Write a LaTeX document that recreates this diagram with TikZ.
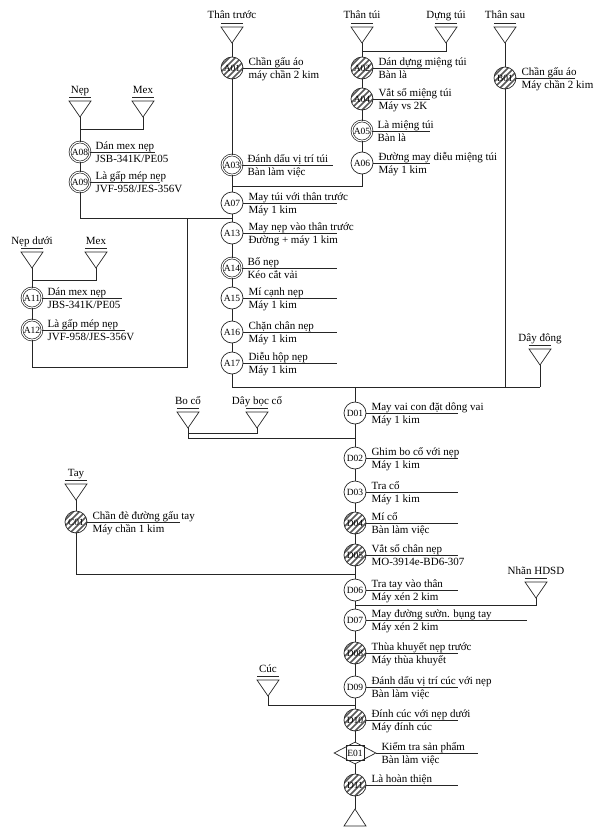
\documentclass[tikz,border=0pt]{standalone}
\usepackage{fontspec}
\setmainfont{Liberation Serif}
\usetikzlibrary{shapes.geometric}
\tikzset{
  ln/.style={line width=0.7pt, black!85},
  op/.style={circle, draw=black!85, line width=0.7pt, minimum size=22pt, inner sep=0pt, font=\fontsize{9.5}{10}\selectfont},
  opd/.style={op, double, double distance=1.1pt, minimum size=20pt},
  oph/.style={op, path picture={\foreach \k in {-25,-19,...,25}{\draw[line width=1.5pt, black!65] ([xshift=\k pt-16pt,yshift=-16pt]path picture bounding box.center) -- ++(32pt,32pt);}}},
  t1/.style={anchor=base west, inner sep=0pt, font=\fontsize{11}{12}\selectfont},
  t2/.style={t1},
  lbl/.style={anchor=base, inner sep=0pt, font=\fontsize{11}{12}\selectfont},
}
\newcommand\myop[4]{%
  \draw[ln] (#1.east) -- ([xshift=#2pt]#1.center);
  \node[t1] (#1a) at ([xshift=5pt,yshift=2.5pt]#1.east) {#3};
  \node[t2] (#1b) at ([xshift=5pt,yshift=-10.5pt]#1.east) {#4};
}
\newcommand\mystor[4]{%
  \draw[ln] ({#2-11},#3) -- ({#2+11},#3) -- (#2,{#3+16}) -- cycle;
  \draw[ln] ({#2-11},{#3-3.5}) -- ({#2+11},{#3-3.5});
  \node[lbl] (#1l) at (#2,{#3-8}) {#4};
  \coordinate (#1) at (#2,{#3+16});
}
\begin{document}
\begin{tikzpicture}[x=1pt,y=-1pt]
\useasboundingbox (0,0) rectangle (599,827);
% storages
\mystor{tTT}{232}{27}{Thân trước}
\mystor{tTtui}{362}{27}{Thân túi}
\mystor{tDtui}{446}{27}{Dựng túi}
\mystor{tTs}{505}{27}{Thân sau}
\mystor{tNep}{80}{101}{Nẹp}
\mystor{tMex1}{143}{101}{Mex}
\mystor{tNd}{32}{252}{Nẹp dưới}
\mystor{tMex2}{96}{252}{Mex}
\mystor{tBo}{188}{412}{Bo cổ}
\mystor{tDb}{257}{412}{Dây bọc cổ}
\mystor{tDd}{540}{349}{Dây đông}
\mystor{tTay}{76}{484}{Tay}
\mystor{tNh}{536}{582}{Nhãn HDSD}
\mystor{tCuc}{268}{680}{Cúc}
\draw[ln] (344,826) -- (366,826) -- (355,809) -- cycle;
\coordinate (tEnd) at (355,809);
% junctions
\coordinate (jT) at (362,51);
\coordinate (jAT) at (232,186);
\coordinate (jN) at (80,129);
\coordinate (jN2) at (232,218);
\coordinate (jNd) at (32,280);
\coordinate (jNd2) at (187,367);
\coordinate (jNd3) at (187,218);
\coordinate (jDd) at (540,387);
\coordinate (jB) at (505,387);
\coordinate (jD) at (355,387);
\coordinate (jBo2) at (355,438);
\coordinate (jBo3) at (188,433);
\coordinate (jTay) at (355,574);
\coordinate (jNh) at (355,605);
\coordinate (jCuc) at (355,705);
% operations: Than truoc
\node[oph] (A01) at (232,68) {A01};
\node[opd] (A03) at (232,165) {A03};
\node[op] (A07) at (232,203) {A07};
\node[op] (A13) at (232,233) {A13};
\node[opd] (A14) at (232,268) {A14};
\node[op] (A15) at (232,298) {A15};
\node[op] (A16) at (232,332) {A16};
\node[op] (A17) at (232,363) {A17};
% tui
\node[oph] (A02) at (362,68) {A02};
\node[oph] (A04) at (362,99) {A04};
\node[opd] (A05) at (362,131) {A05};
\node[op] (A06) at (362,163) {A06};
% than sau
\node[oph] (B01) at (505,78) {B01};
% nep
\node[opd] (A08) at (80,152) {A08};
\node[opd] (A09) at (80,182) {A09};
\node[opd] (A11) at (32,298) {A11};
\node[opd] (A12) at (32,330) {A12};
% tay
\node[oph] (C01) at (76,522) {C01};
% D column
\node[op] (D01) at (355,413) {D01};
\node[op] (D02) at (355,458) {D02};
\node[op] (D03) at (355,492) {D03};
\node[oph] (D04) at (355,523) {D04};
\node[oph] (D05) at (355,555) {D05};
\node[op] (D06) at (355,590) {D06};
\node[op] (D07) at (355,620) {D07};
\node[oph] (D08) at (355,653) {D08};
\node[op] (D09) at (355,687) {D09};
\node[oph] (D10) at (355,720) {D10};
\node[diamond, draw=black!85, line width=0.7pt, minimum width=42pt, minimum height=22pt, inner sep=0pt] (E01) at (355,753) {};
\node[draw=black!85, line width=0.7pt, minimum width=18pt, minimum height=15pt, inner sep=0pt, font=\fontsize{9.5}{10}\selectfont] (E01i) at (E01) {E01};
\node[oph] (D11) at (355,785) {D11};
% connectors
\draw[ln] (tTT) -- (A01) -- (A03) -- (A07) -- (A13) -- (A14) -- (A15) -- (A16) -- (A17) |- (jDd);
\draw[ln] (tDd) -- (jDd);
\draw[ln] (tTs) -- (B01) -- (jB);
\draw[ln] (tTtui) -- (A02) -- (A04) -- (A05) -- (A06) |- (jAT);
\draw[ln] (tDtui) |- (jT);
\draw[ln] (tNep) -- (A08) -- (A09) |- (jN2);
\draw[ln] (tMex1) |- (jN);
\draw[ln] (tNd) -- (A11) -- (A12) |- (jNd2) -- (jNd3);
\draw[ln] (tMex2) |- (jNd);
\draw[ln] (tTay) -- (C01) |- (jTay);
\draw[ln] (tBo) |- (jBo2);
\draw[ln] (tDb) |- (jBo3);
\draw[ln] (tNh) |- (jNh);
\draw[ln] (tCuc) |- (jCuc);
\draw[ln] (jD) -- (D01) -- (D02) -- (D03) -- (D04) -- (D05) -- (D06) -- (D07) -- (D08) -- (D09) -- (D10) -- (E01) -- (D11) -- (tEnd);
% texts
\myop{A01}{68}{Chần gấu áo}{máy chần 2 kim}
\myop{A03}{101}{Đánh dấu vị trí túi}{Bàn làm việc}
\myop{A07}{105}{May túi với thân trước}{Máy 1 kim}
\myop{A13}{105}{May nẹp vào thân trước}{Đường + máy 1 kim}
\myop{A14}{105}{Bổ nẹp}{Kéo cắt vải}
\myop{A15}{105}{Mí cạnh nẹp}{Máy 1 kim}
\myop{A16}{105}{Chặn chân nẹp}{Máy 1 kim}
\myop{A17}{105}{Diễu hộp nẹp}{Máy 1 kim}
\myop{A02}{68}{Dán dựng miệng túi}{Bàn là}
\myop{A04}{68}{Vắt sổ miệng túi}{Máy vs 2K}
\myop{A05}{68}{Là miệng túi}{Bàn là}
\myop{A06}{68}{Đường may diễu miệng túi}{Máy 1 kim}
\myop{B01}{70}{Chần gấu áo}{Máy chần 2 kim}
\myop{A08}{75}{Dán mex nẹp}{JSB-341K/PE05}
\myop{A09}{80}{Là gấp mép nẹp}{JVF-958/JES-356V}
\myop{A11}{90}{Dán mex nẹp}{JBS-341K/PE05}
\myop{A12}{93}{Là gấp mép nẹp}{JVF-958/JES-356V}
\myop{C01}{104}{Chần đè đường gấu tay}{Máy chần 1 kim}
\myop{D01}{103}{May vai con đặt dông vai}{Máy 1 kim}
\myop{D02}{103}{Ghim bo cổ với nẹp}{Máy 1 kim}
\myop{D03}{103}{Tra cổ}{Máy 1 kim}
\myop{D04}{103}{Mí cổ}{Bàn làm việc}
\myop{D05}{103}{Vắt sổ chân nẹp}{MO-3914e-BD6-307}
\myop{D06}{103}{Tra tay vào thân}{Máy xén 2 kim}
\myop{D07}{172}{May đường sườn. bụng tay}{Máy xén 2 kim}
\myop{D08}{103}{Thùa khuyết nẹp trước}{Máy thùa khuyết}
\myop{D09}{103}{Đánh dấu vị trí cúc với nẹp}{Bàn làm việc}
\myop{D10}{103}{Đính cúc với nẹp dưới}{Máy đính cúc}
\myop{E01}{123}{Kiểm tra sản phẩm}{Bàn làm việc}
\myop{D11}{103}{Là hoàn thiện}{}
\end{tikzpicture}
\end{document}
